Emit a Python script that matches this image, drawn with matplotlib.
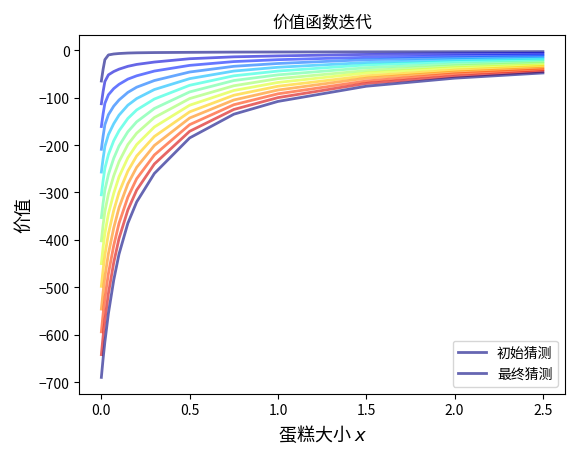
import numpy as np
import matplotlib
matplotlib.use("Agg")
import matplotlib.pyplot as plt

plt.rcParams['font.family'] = ['Noto Sans CJK SC', 'DejaVu Sans']

# cake size grid points
x_grid = [0.0, 0.01, 0.02, 0.04, 0.07, 0.1, 0.15, 0.2, 0.3, 0.5, 0.75, 1.0, 1.5, 2.0, 2.5]

# value function at each iteration, first row = initial guess, last row = final guess
v_iter = [
    [-65, -40, -20, -10, -8, -7, -6, -5.5, -5, -4.5, -4, -3.8, -3.5, -3.2, -3],
    [-113, -87, -66, -52, -45, -40, -34, -30, -25, -18, -14, -12, -9, -7.5, -6.5],
    [-161, -134, -112, -94, -81, -72, -61, -54, -44, -32, -24, -20, -15, -12, -10],
    [-209, -181, -157, -136, -118, -105, -89, -78, -64, -46, -34, -28, -20, -16, -13],
    [-257, -228, -203, -178, -155, -137, -116, -102, -83, -60, -44, -36, -26, -20, -17],
    [-305, -275, -249, -220, -191, -170, -144, -126, -103, -74, -54, -44, -31, -24, -20],
    [-353, -322, -295, -262, -228, -202, -172, -151, -123, -88, -64, -52, -37, -29, -24],
    [-402, -368, -340, -303, -265, -235, -199, -175, -142, -102, -75, -60, -43, -33, -27],
    [-450, -415, -386, -345, -302, -267, -227, -199, -162, -116, -85, -68, -48, -37, -31],
    [-498, -462, -432, -387, -338, -300, -255, -223, -182, -130, -95, -76, -54, -42, -34],
    [-546, -509, -478, -429, -375, -332, -282, -247, -201, -143, -105, -84, -59, -46, -38],
    [-594, -556, -523, -471, -412, -365, -310, -271, -221, -157, -115, -92, -65, -50, -41],
    [-642, -603, -569, -513, -448, -397, -337, -295, -240, -171, -125, -100, -70, -55, -45],
    [-690, -650, -615, -555, -485, -430, -365, -320, -260, -185, -135, -108, -76, -59, -48],
]

fig, ax = plt.subplots(figsize=(5.8, 4.6), dpi=100)
n = len(v_iter) - 1
ax.plot(x_grid, v_iter[0], color=plt.cm.jet(0), lw=2, alpha=0.6, label='初始猜测')
for i in range(1, n):
    ax.plot(x_grid, v_iter[i], color=plt.cm.jet(i / n), lw=2, alpha=0.6)
ax.plot(x_grid, v_iter[n], color=plt.cm.jet(0), lw=2, alpha=0.6, label='最终猜测')

ax.legend(loc='lower right')
ax.set_ylabel('价值', fontsize=13)
ax.set_xlabel('蛋糕大小 $x$', fontsize=13)
ax.set_title('价值函数迭代')
plt.tight_layout()
plt.savefig('out.png')
